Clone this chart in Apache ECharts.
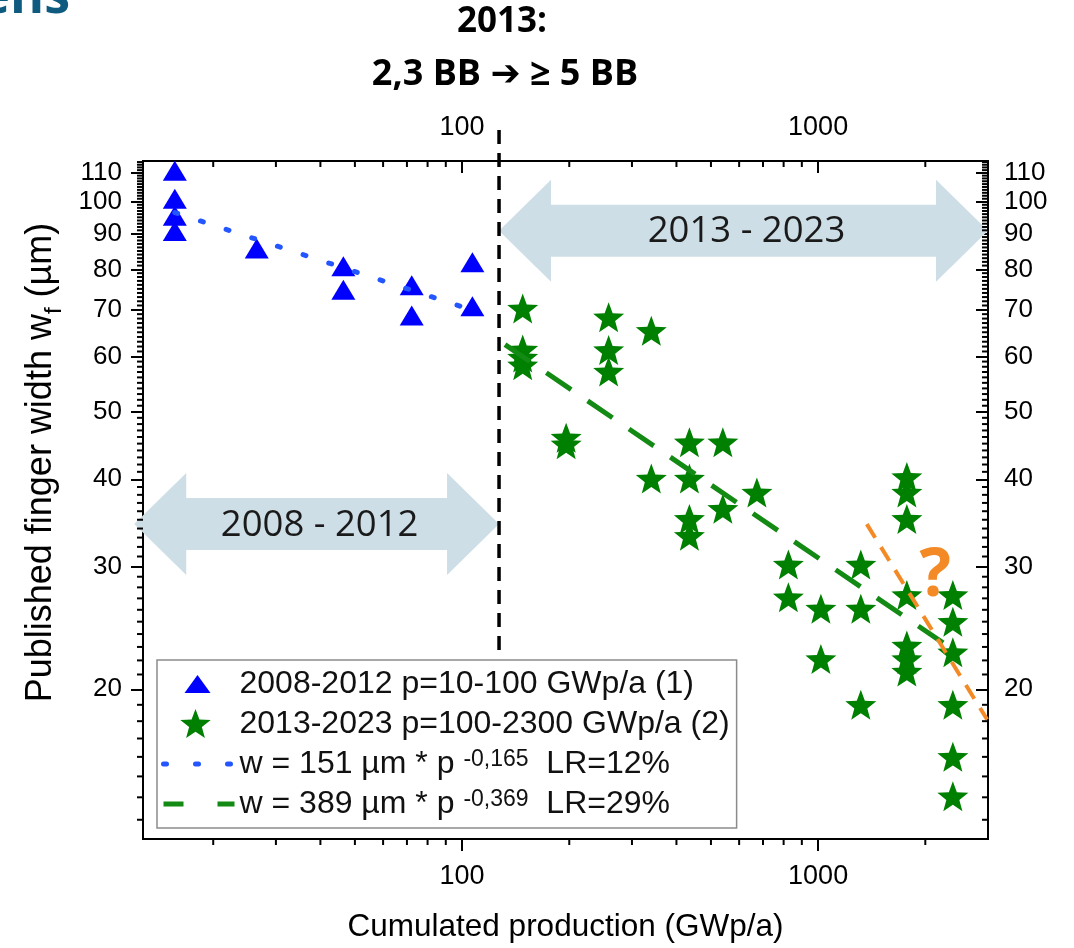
<!DOCTYPE html>
<html><head><meta charset="utf-8">
<script src="https://cdn.jsdelivr.net/npm/echarts@6/dist/echarts.min.js"></script>
<style>html,body{margin:0;padding:0;background:#fff}#c{width:1074px;height:948px}</style>
</head><body><div id="c"></div>
<script>
// ---------------- data ----------------
const triP = [15.6, 15.6, 15.6, 15.6, 26.5, 46.4, 46.4, 72.2, 72.2, 106.9, 106.9];
const triW = [110.8, 101, 95.5, 90.8, 85.7, 80.8, 74.8, 75.9, 68.7, 81.9, 70.8];
const starP = [148, 148, 148, 148, 196, 196, 258, 258, 258, 340, 340, 435, 435, 435, 435, 540, 540, 673, 825, 825, 1018, 1018, 1318, 1318, 1318, 1775, 1775, 1775, 1775, 1775, 1775, 1775, 2390, 2390, 2390, 2390, 2390, 2390];
const starW = [70.3, 61.4, 59.8, 58.3, 45.9, 44.9, 68.3, 61.3, 57.1, 65.3, 40.1, 45.2, 40.1, 35.1, 33.2, 45.2, 36.3, 38.3, 30.2, 27.1, 26.1, 22.1, 30.2, 26.1, 19.0, 40.3, 38.3, 35.1, 27.3, 23.1, 22.1, 21.2, 27.3, 25.0, 22.6, 19.0, 16.0, 14.05];
const fit1P = [15.6, 107];   const fit1W = [96.5, 69.9];
const fit2P = [132, 2390];   const fit2W = [62.4, 22.8];
const trendP = [1370, 2983]; const trendW = [34.5, 18.1];
const splitP = [127, 127];   const splitW = [126.7, 22.5];
const periodLabels = ['2008 - 2012', '2013 - 2023'];
const periodFrom = [12, 127];
const periodTo = [127, 3000];
const periodAt = [34.5, 90.9];
const questionAt = [2132, 29.0];
const xMajor = [100, 1000];
const xMinor = [20, 30, 40, 50, 60, 70, 80, 90, 200, 300, 400, 500, 600, 700, 800, 900, 2000];
const yMajor = [20, 30, 40, 50, 60, 70, 80, 90, 100, 110];
const yMinor = [13, 14, 15, 16, 17, 18, 19, 21, 22, 23, 24, 25, 26, 27, 28, 29, 31, 32, 33, 34, 35, 36, 37, 38, 39,
  41, 42, 43, 44, 45, 46, 47, 48, 49, 51, 52, 53, 54, 55, 56, 57, 58, 59, 61, 62, 63, 64, 65, 66, 67, 68, 69,
  71, 72, 73, 74, 75, 76, 77, 78, 79, 81, 82, 83, 84, 85, 86, 87, 88, 89, 91, 92, 93, 94, 95, 96, 97, 98, 99,
  101, 102, 103, 104, 105, 106, 107, 108, 109, 111, 112, 113, 114];
const seriesNames = ['2008-2012 p=10-100 GWp/a (1)', '2013-2023 p=100-2300 GWp/a (2)',
  'w = 151 µm * p -0,165  LR=12%', 'w = 389 µm * p -0,369  LR=29%'];
const legendRich = {
  'w = 151 µm * p -0,165  LR=12%': 'w = 151 µm * p {sup|-0,165}  LR=12%',
  'w = 389 µm * p -0,369  LR=29%': 'w = 389 µm * p {sup|-0,369}  LR=29%'
};
const xName = 'Cumulated production (GWp/a)';
const yName = 'Published finger width w{sub|f} (µm)';
const titleLine1 = '2013:';
const titleLine2 = '2,3 BB \u2794 \u2265 5 BB';

// ---------------- helpers ----------------
function starPts(cx, cy, R, r) {
  const pts = [];
  for (let k = 0; k < 10; k++) {
    const a = -Math.PI / 2 + k * Math.PI / 5;
    const rr = k % 2 ? r : R;
    pts.push([cx + rr * Math.cos(a), cy + rr * Math.sin(a)]);
  }
  return pts;
}
function ptsPath(pts) {
  return pts.map((p, i) => (i ? 'L' : 'M') + p[0].toFixed(2) + ',' + p[1].toFixed(2)).join(' ') + ' Z';
}
const starSymbol = 'path://' + ptsPath(starPts(50, 50, 50, 21));
const LW = 72, LH = 32;
const starLegendIcon = 'path://M0,0 M' + LW + ',' + LH + ' ' + ptsPath(starPts(33, 17, 16, 6.7));
const triLegendIcon = 'path://M0,0 M' + LW + ',' + LH + ' M22,25 L35,7 L48,25 Z';

const FONT = '"Liberation Sans", Arial, sans-serif';
const black = '#000';
const fmt = v => String(Math.round(v));

function xAx(pos, extra) {
  return Object.assign({
    type: 'log', logBase: 10, position: pos, min: 12.7, max: 3000,
    axisLine: {show: false},
    axisTick: {show: true, customValues: xMajor, length: 12, inside: pos === 'top', lineStyle: {color: black, width: 2}},
    axisLabel: {show: true, customValues: xMajor, formatter: fmt, fontSize: 27, fontFamily: FONT, color: black, margin: pos === 'bottom' ? 24 : 20},
    splitLine: {show: false}
  }, extra || {});
}
function yAx(pos, extra) {
  return Object.assign({
    type: 'log', logBase: 10, position: pos, min: 12.2, max: 114.4,
    axisLine: {show: false},
    axisTick: {show: true, customValues: yMajor, length: 12, inside: pos === 'right', lineStyle: {color: black, width: 2}},
    axisLabel: {show: true, customValues: yMajor, formatter: fmt, fontSize: 26, fontFamily: FONT, color: black, margin: pos === 'left' ? 21 : 16},
    splitLine: {show: false}
  }, extra || {});
}
function tickLine(x1, y1, x2, y2) {
  return {type: 'line', shape: {x1: x1, y1: y1, x2: x2, y2: y2}, style: {stroke: black, lineWidth: 2}};
}

const chart = echarts.init(document.getElementById('c'), null, {renderer: 'canvas'});
chart.setOption({
  animation: false,
  backgroundColor: '#fff',
  grid: {left: 143, right: 86, top: 161, bottom: 107, show: true, borderColor: black, borderWidth: 2, backgroundColor: 'transparent'},
  xAxis: [
    xAx('bottom', {
      name: xName, nameLocation: 'middle', nameGap: 72,
      nameTextStyle: {fontSize: 31.5, fontFamily: FONT, color: black}
    }),
    xAx('top')
  ],
  yAxis: [
    yAx('left', {
      name: yName, nameLocation: 'middle', nameGap: 84,
      nameTextStyle: {fontSize: 36, fontFamily: FONT, color: black, padding: [0, 0, 0, 75],
        rich: {sub: {fontSize: 24, fontFamily: FONT, color: black, verticalAlign: 'bottom', padding: [0, 0, -7, 0]}}}
    }),
    yAx('right')
  ],
  legend: {
    orient: 'vertical', left: 157, top: 660,
    padding: [8, 7, 8, 3], itemGap: 8, itemWidth: LW, itemHeight: LH,
    backgroundColor: '#fff', borderColor: '#8c8c8c', borderWidth: 1.5,
    textStyle: {fontSize: 32, fontFamily: FONT, color: '#111',
      rich: {sup: {fontSize: 23, fontFamily: FONT, color: '#111', verticalAlign: 'top', padding: [0, 0, 0, 0]}}},
    formatter: n => legendRich[n] || n,
    data: [
      {name: seriesNames[0], icon: triLegendIcon},
      {name: seriesNames[1], icon: starLegendIcon},
      {name: seriesNames[2], lineStyle: {type: [3, 29], width: 5, cap: 'round', dashOffset: -1}, itemStyle: {opacity: 0}},
      {name: seriesNames[3], lineStyle: {type: [20, 34], width: 5}, itemStyle: {opacity: 0}}
    ]
  },
  graphic: [
    {type: 'text', x: 70, y: 24, style: {text: 'ens', font: 'bold 52px "Open Sans", sans-serif', fill: '#0f5b80', align: 'right', verticalAlign: 'bottom'}},
    {type: 'text', x: 502, y: 22, style: {text: titleLine1, font: 'bold 35px "Open Sans", "DejaVu Sans", sans-serif', fill: '#000', align: 'center', verticalAlign: 'middle'}},
    {type: 'text', x: 505, y: 75, style: {text: titleLine2, font: 'bold 36px "Open Sans", "DejaVu Sans", sans-serif', fill: '#000', align: 'center', verticalAlign: 'middle'}}
  ],
  series: [
    {
      type: 'custom', name: 'periods', coordinateSystem: 'cartesian2d', xAxisIndex: 0, yAxisIndex: 0,
      clip: false, silent: true, z: 1,
      encode: {x: [0, 1], y: 2},
      data: periodLabels.map((l, i) => [periodFrom[i], periodTo[i], periodAt[i]]),
      renderItem: function (params, api) {
        const a = api.coord([api.value(0), api.value(2)]);
        const b = api.coord([api.value(1), api.value(2)]);
        const hw = 52, hh = 51, sh = 26;
        const x1 = a[0], x2 = b[0], y = a[1];
        const pts = [[x1, y], [x1 + hw, y - hh], [x1 + hw, y - sh], [x2 - hw, y - sh], [x2 - hw, y - hh], [x2, y],
          [x2 - hw, y + hh], [x2 - hw, y + sh], [x1 + hw, y + sh], [x1 + hw, y + hh]];
        return {type: 'group', children: [
          {type: 'polygon', shape: {points: pts}, style: {fill: '#cddee6'}},
          {type: 'text', style: {text: periodLabels[params.dataIndex], x: (x1 + x2) / 2 + 3, y: y + 1, align: 'center', verticalAlign: 'middle',
            font: '36.5px "Open Sans", sans-serif', fill: '#1a1a1a'}}
        ]};
      }
    },
    {
      type: 'custom', name: 'minorTicks', coordinateSystem: 'cartesian2d', clip: false, silent: true, z: 6,
      encode: {x: 0, y: 1},
      data: [[100, 30]],
      renderItem: function (params, api) {
        const cs = params.coordSys;
        const L = cs.x, R = cs.x + cs.width, T = cs.y, B = cs.y + cs.height;
        const kids = [];
        yMinor.forEach(function (v) {
          const y = api.coord([100, v])[1];
          kids.push(tickLine(L - 6, y, L, y));
          kids.push(tickLine(R - 6, y, R, y));
        });
        xMinor.forEach(function (v) {
          const x = api.coord([v, 30])[0];
          kids.push(tickLine(x, B, x, B + 6));
          kids.push(tickLine(x, T, x, T + 6));
        });
        return {type: 'group', children: kids};
      }
    },
    {
      name: seriesNames[0], type: 'scatter', z: 3,
      data: triP.map((p, i) => [p, triW[i]]),
      symbol: 'triangle', symbolSize: [24, 20],
      itemStyle: {color: '#0000ff', opacity: 1}
    },
    {
      name: seriesNames[1], type: 'scatter', z: 3,
      data: starP.map((p, i) => [p, starW[i]]),
      symbol: starSymbol, symbolSize: [31, 30], symbolKeepAspect: false,
      itemStyle: {color: '#008000', opacity: 1}
    },
    {
      name: seriesNames[2], type: 'line', z: 4, symbol: 'none', showSymbol: false,
      data: fit1P.map((p, i) => [p, fit1W[i]]),
      itemStyle: {color: '#2456ff'},
      lineStyle: {color: '#2456ff', width: 5, type: [3, 24], cap: 'round'}
    },
    {
      name: seriesNames[3], type: 'line', z: 4, symbol: 'none', showSymbol: false,
      data: fit2P.map((p, i) => [p, fit2W[i]]),
      itemStyle: {color: '#138a13'},
      lineStyle: {color: '#138a13', width: 5, type: [30, 20]}
    },
    {
      name: 'trend', type: 'line', z: 4, symbol: 'none', showSymbol: false, clip: false,
      data: trendP.map((p, i) => [p, trendW[i]]),
      lineStyle: {color: '#f38a26', width: 4, type: [16, 11]}
    },
    {
      name: 'split', type: 'line', z: 5, symbol: 'none', showSymbol: false, clip: false,
      data: splitP.map((p, i) => [p, splitW[i]]),
      lineStyle: {color: '#000', width: 3.5, type: [14, 9]}
    },
    {
      type: 'custom', name: 'question', coordinateSystem: 'cartesian2d', clip: false, silent: true, z: 5,
      encode: {x: 0, y: 1},
      data: [questionAt],
      renderItem: function (params, api) {
        const c = api.coord([api.value(0), api.value(1)]);
        return {type: 'text', style: {text: '?', x: c[0], y: c[1], align: 'center', verticalAlign: 'middle',
          font: 'bold 66px "Open Sans", sans-serif', fill: '#f38a26'}};
      }
    }
  ]
});
</script></body></html>
